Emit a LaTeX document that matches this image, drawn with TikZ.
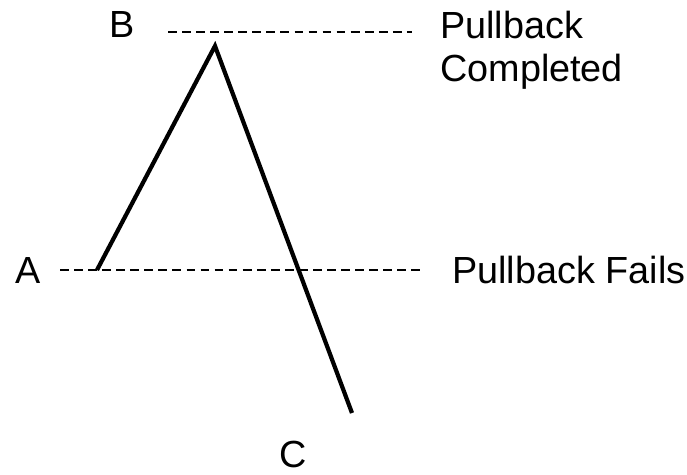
\documentclass[tikz,border=0pt]{standalone}
\usepackage{fontspec}
\setmainfont{Liberation Sans}
\usetikzlibrary{positioning,calc}
\tikzset{
label/.style = {inner sep=0pt, font=\fontsize{21.5}{25}\selectfont},
level/.style = {dash pattern=on 5pt off 3pt, line width=0.8pt},
leg/.style = {line width=2.4pt, line cap=butt, line join=miter}
}

\begin{document}
\begin{tikzpicture}[x=0.02cm, y=-0.02cm]
	\useasboundingbox (0,0) rectangle (687,474);
	\coordinate (pa) at (97,270);
	\coordinate (pb) at (215,46);
	\coordinate (pc) at (352,413);
	\coordinate (lvb1) at (168,32);
	\coordinate (lvb2) at (412,32);
	\coordinate (lva1) at (60,270);
	\coordinate (lva2) at (422,270);
	\node[label] (lblb) at (122,25) {B};
	\node[label] (lbla) at (28,270) {A};
	\node[label] (lblc) at (293,454) {C};
	\node[label, anchor=west] (compl) at (440,25) {Pullback};
	\node[label, anchor=west] (compl2) at (440,72) {Completed};
	\node[label, anchor=west] (fails) at (452,270) {Pullback Fails};
	\draw[level] (lvb1) -- (lvb2);
	\draw[level] (lva1) -- (lva2);
	\draw[leg] (pa) -- (pb) -- (pc);
\end{tikzpicture}
\end{document}
